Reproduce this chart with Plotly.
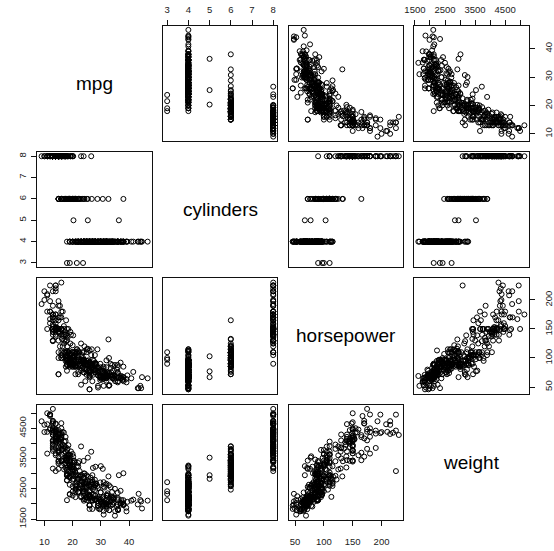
import plotly.graph_objects as go

var_names = ["mpg", "cylinders", "horsepower", "weight"]

mpg = [18,15,18,16,17,15,14,14,14,15,15,14,15,14,24,22,18,21,27,26,25,24,25,26,21,10,10,11,9,27,
       28,25,19,16,17,19,18,14,14,14,14,12,13,13,18,22,19,18,23,28,30,30,31,35,27,26,24,25,23,20,
       21,13,14,15,14,17,11,13,12,13,19,15,13,13,14,18,22,21,26,22,28,23,28,27,13,14,13,14,15,12,
       13,13,14,13,12,13,18,16,18,18,23,26,11,12,13,12,18,20,21,22,18,19,21,26,15,16,29,24,20,19,
       15,24,20,11,20,19,15,31,26,32,25,16,16,18,16,13,14,14,14,29,26,26,31,32,28,24,26,24,26,31,
       19,18,15,15,16,15,16,14,17,16,15,18,21,20,13,29,23,20,23,24,25,24,18,29,19,23,23,22,25,33,
       28,25,25,26,27,17.5,16,15.5,14.5,22,22,24,22.5,29,24.5,29,33,20,18,18.5,17.5,29.5,32,28,26.5,20,13,19,19,16.5,
       16.5,13,13,13,31.5,30,36,25.5,33.5,17.5,17,15.5,15,17.5,20.5,19,18.5,16,15.5,15.5,16,29,24.5,26,25.5,30.5,33.5,30,30.5,22,
       21.5,21.5,43.1,36.1,32.8,39.4,36.1,19.9,19.4,20.2,19.2,20.5,20.2,25.1,20.5,19.4,20.6,20.8,18.6,18.1,19.2,17.7,18.1,17.5,30,27.5,27.2,30.9,21.1,23.2,
       23.8,23.9,20.3,17,21.6,16.2,31.5,29.5,21.5,19.8,22.3,20.2,20.6,17,17.6,16.5,18.2,16.9,15.5,19.2,18.5,31.9,34.1,35.7,27.4,25.4,23,27.2,23.9,34.2,
       34.5,31.8,37.3,28.4,28.8,26.8,33.5,41.5,38.1,32.1,37.2,28,26.4,24.3,19.1,34.3,29.8,31.3,37,32.2,46.6,27.9,40.8,44.3,43.4,36.4,30,44.6,33.8,29.8,
       32.7,23.7,35,32.4,27.2,26.6,25.8,23.5,30,39.1,39,35.1,32.3,37,37.7,34.1,34.7,34.4,29.9,33,33.7,32.4,32.9,31.6,28.1,30.7,25.4,24.2,22.4,26.6,
       20.2,17.6,28,27,34,31,29,27,24,36,37,31,38,36,36,36,34,38,32,38,25,38,26,22,32,36,27,27,44,32,
       28,31]

cylinders = [8,8,8,8,8,8,8,8,8,8,8,8,8,8,4,6,6,6,4,4,4,4,4,4,6,8,8,8,8,4,
             4,4,6,6,6,6,6,8,8,8,8,8,8,8,6,4,6,6,4,4,4,4,4,4,4,4,4,4,4,4,
             4,8,8,8,8,8,8,8,8,8,3,8,8,8,8,4,4,4,4,4,4,4,4,4,8,8,8,8,8,8,
             8,8,8,8,8,8,6,6,6,6,6,4,8,8,8,8,6,4,4,4,3,4,6,4,8,8,4,4,4,4,
             8,4,6,8,6,6,6,4,4,4,4,6,6,6,8,8,8,8,8,4,4,4,4,4,4,4,4,4,4,4,
             6,6,6,6,8,8,8,8,6,6,6,6,6,8,8,4,4,6,4,4,4,4,6,4,6,4,4,4,4,4,
             4,4,4,4,4,8,8,8,8,6,6,6,6,4,4,4,4,6,6,6,6,4,4,4,4,4,8,4,6,6,
             8,8,8,8,4,4,4,4,4,8,8,8,8,6,6,6,6,8,8,8,8,4,4,4,4,4,4,4,4,6,
             4,3,4,4,4,4,4,8,8,8,6,6,6,4,6,6,6,6,6,6,8,6,8,8,4,4,4,4,4,4,
             4,4,5,6,4,6,4,4,6,6,4,6,6,8,8,8,8,8,8,8,8,4,4,4,4,5,8,4,8,4,
             4,4,4,4,6,6,4,4,4,4,4,4,4,4,6,4,4,4,4,4,4,4,4,4,4,5,4,4,4,4,
             6,3,4,4,4,4,4,6,4,4,4,4,4,4,4,4,4,4,4,4,4,4,4,4,4,6,6,6,6,8,
             6,6,4,4,4,4,4,4,4,4,4,4,4,4,4,4,4,4,4,4,6,6,4,6,4,4,4,4,4,4,
             4,4]

horsepower = [130,165,150,150,140,198,220,215,225,190,170,160,150,225,95,95,97,85,88,46,87,90,95,113,90,215,200,210,193,88,
              90,95,100,105,100,88,100,165,175,153,150,180,170,175,110,72,100,88,86,90,70,76,65,69,60,70,95,80,54,90,
              86,165,175,150,153,150,208,155,160,190,97,150,130,140,150,112,76,87,69,86,92,97,80,88,175,150,145,137,150,198,
              150,158,150,215,225,175,105,100,100,88,95,46,150,167,170,180,100,88,72,94,90,85,107,90,145,230,49,75,91,112,
              150,110,122,180,95,100,100,67,80,65,75,100,110,105,140,150,150,140,150,83,67,78,52,61,75,75,75,97,93,67,
              95,105,72,72,170,145,150,148,110,105,110,95,110,110,129,75,83,100,78,96,71,97,97,70,90,95,88,98,115,53,
              86,81,92,79,83,140,150,120,152,100,105,81,90,52,60,70,53,100,78,110,95,71,70,75,72,102,150,88,108,120,
              180,145,130,150,68,80,58,96,70,145,110,145,130,110,105,100,98,180,170,190,149,78,88,75,89,63,83,67,78,97,
              110,110,48,66,52,70,60,110,140,139,105,95,85,88,100,90,105,85,110,120,145,165,139,140,68,95,97,75,95,105,
              85,97,103,125,115,133,71,68,115,85,88,90,110,130,129,138,135,155,142,125,150,71,65,80,80,77,125,71,90,70,
              70,65,69,90,115,115,90,76,60,70,65,90,88,90,90,78,90,75,92,75,65,105,65,48,48,67,67,67,67,62,
              132,100,88,72,84,84,92,110,84,58,64,60,67,65,62,68,63,65,65,74,75,75,100,74,80,76,116,120,110,105,
              88,85,88,88,88,85,84,90,92,74,68,68,63,70,88,75,70,67,67,67,110,85,92,112,96,84,90,86,52,84,
              79,82]

weight = [3504,3693,3436,3433,3449,4341,4354,4312,4425,3850,3563,3609,3761,3086,2372,2833,2774,2587,2130,1835,2672,2430,2375,2234,2648,4615,4376,4382,4732,2130,
          2264,2228,2634,3439,3329,3302,3288,4209,4464,4154,4096,4955,4746,5140,2962,2408,3282,3139,2220,2123,2074,2065,1773,1613,1834,1955,2278,2126,2254,2408,
          2226,4274,4385,4135,4129,3672,4633,4502,4456,4422,2330,3892,4098,4294,4077,2933,2511,2979,2189,2395,2288,2506,2164,2100,4100,3672,3988,4042,3777,4952,
          4464,4363,4237,4735,4951,3821,3121,3278,2945,3021,2904,1950,4997,4906,4654,4499,2789,2279,2401,2379,2124,2310,2472,2265,4082,4278,1867,2158,2582,2868,
          3399,2660,2807,3664,3102,2901,3336,1950,2451,1836,2542,3781,3632,3613,4141,4699,4457,4638,4257,2219,1963,2300,1649,2003,2125,2108,2246,2489,2391,2000,
          3264,3459,3432,3158,4668,4440,4498,4657,3907,3897,3730,3785,3039,3221,3169,2171,2639,2914,2592,2702,2223,2545,2984,1937,3211,2694,2957,2945,2671,1795,
          2464,2220,2572,2255,2202,4215,4190,3962,4215,3233,3353,3012,3085,2035,2164,1937,1795,3651,3574,3645,3193,1825,1990,2155,2565,3150,3940,3270,2930,3820,
          4380,4055,3870,3755,2045,2155,1825,2300,1945,3880,4060,4140,4295,3520,3425,3630,3525,4220,4165,4325,4335,1940,2740,2265,2755,2051,2075,1985,2190,2815,
          2600,2720,1985,1800,1985,2070,1800,3365,3735,3570,3535,3155,2965,2720,3430,3210,3380,3070,3620,3410,3425,3445,3205,4080,2155,2560,2300,2230,2515,2745,
          2855,2405,2830,3140,2795,3410,1990,2135,3245,2990,2890,3265,3360,3840,3725,3955,3830,4360,4054,3605,3940,1925,1975,1915,2670,3530,3900,3190,3420,2200,
          2150,2020,2130,2670,2595,2700,2556,2144,1968,2120,2019,2678,2870,3003,3381,2188,2711,2542,2434,2265,2110,2800,2110,2085,2335,2950,3250,1850,2145,1845,
          2910,2420,2500,2290,2490,2635,2620,2725,2385,1755,1875,1760,2065,1975,2050,1985,2215,2045,2380,2190,2210,2350,2615,2635,3230,3160,2900,2930,3415,3725,
          3060,3465,2605,2640,2395,2575,2525,2735,2865,1980,2025,1970,2125,2125,2160,2205,2245,1965,1965,1995,2945,3015,2585,2835,2665,2370,2950,2790,2130,2295,
          2625,2720]

mpg_tickvals = [10, 20, 30, 40]
mpg_ticktext = ["10", "20", "30", "40"]
cyl_tickvals = [3, 4, 5, 6, 7, 8]
cyl_ticktext = ["3", "4", "5", "6", "7", "8"]
hp_tickvals = [50, 100, 150, 200]
hp_ticktext = ["50", "100", "150", "200"]
wt_tickvals = [1500, 2000, 2500, 3000, 3500, 4000, 4500, 5000]
wt_ticktext = ["1500", "", "2500", "", "3500", "", "4500", ""]

data = [mpg, cylinders, horsepower, weight]
ticks = [(mpg_tickvals, mpg_ticktext), (cyl_tickvals, cyl_ticktext),
         (hp_tickvals, hp_ticktext), (wt_tickvals, wt_ticktext)]

W, H = 554, 551
col_px = [(28.0, 145.3), (156.6, 273.9), (285.2, 402.5), (413.8, 531.1)]
row_px = [(26.0, 143.0), (154.2, 271.2), (282.4, 399.4), (410.6, 527.6)]

FONT = "Liberation Sans, Arial, Helvetica, sans-serif"


def ext_range(v):
    lo, hi = min(v), max(v)
    d = (hi - lo) * 0.04
    return [lo - d, hi + d]


ranges = [ext_range(v) for v in data]

fig = go.Figure()
layout = {}
annotations = []
n = 4
for i in range(n):
    for j in range(n):
        k = i * n + j + 1
        xs = "" if k == 1 else str(k)
        xd = [col_px[j][0] / W, col_px[j][1] / W]
        yd = [1 - row_px[i][1] / H, 1 - row_px[i][0] / H]
        xa = dict(domain=xd, range=ranges[j], anchor="y" + xs, showgrid=False,
                  zeroline=False, showline=True, linecolor="#111", linewidth=1,
                  mirror=True, showticklabels=False, ticks="", fixedrange=True)
        ya = dict(domain=yd, range=ranges[i], anchor="x" + xs, showgrid=False,
                  zeroline=False, showline=True, linecolor="#111", linewidth=1,
                  mirror=True, showticklabels=False, ticks="", fixedrange=True)
        tick_font = dict(family=FONT, size=9.5, color="#222")
        if (i == 0 and j % 2 == 1) or (i == n - 1 and j % 2 == 0):
            tv, tt = ticks[j]
            xa.update(side="top" if i == 0 else "bottom", ticks="outside",
                      ticklen=5, tickwidth=1, tickcolor="#111",
                      tickvals=tv, ticktext=tt, showticklabels=True,
                      tickfont=tick_font, tickangle=0,
                      ticklabelstandoff=3 if i == 0 else 8)
        if (j == 0 and i % 2 == 1) or (j == n - 1 and i % 2 == 0):
            tv, tt = ticks[i]
            ya.update(side="left" if j == 0 else "right", ticks="outside",
                      ticklen=5, tickwidth=1, tickcolor="#111",
                      tickvals=tv, ticktext=tt, showticklabels=True,
                      tickfont=tick_font, tickangle=-90,
                      ticklabelstandoff=2 if j == 0 else 6)
        layout["xaxis" + xs] = xa
        layout["yaxis" + xs] = ya
        if i == j:
            annotations.append(dict(
                x=(col_px[j][0] + col_px[j][1]) / 2 / W,
                y=1 - (row_px[i][0] + row_px[i][1]) / 2 / H,
                xref="paper", yref="paper", text=var_names[i], showarrow=False,
                font=dict(family=FONT, size=19, color="#000"),
                xanchor="center", yanchor="middle"))
        else:
            fig.add_trace(go.Scatter(
                x=data[j], y=data[i], mode="markers",
                xaxis="x" + xs, yaxis="y" + xs,
                marker=dict(symbol="circle-open", size=5, color="#000",
                            line=dict(width=1, color="#000")),
                hoverinfo="skip", showlegend=False))

fig.update_layout(**layout)
fig.update_layout(width=W, height=H, autosize=False,
                  margin=dict(l=0, r=0, t=0, b=0, pad=0),
                  paper_bgcolor="white", plot_bgcolor="white",
                  showlegend=False, annotations=annotations)

fig.write_html("out.html")
